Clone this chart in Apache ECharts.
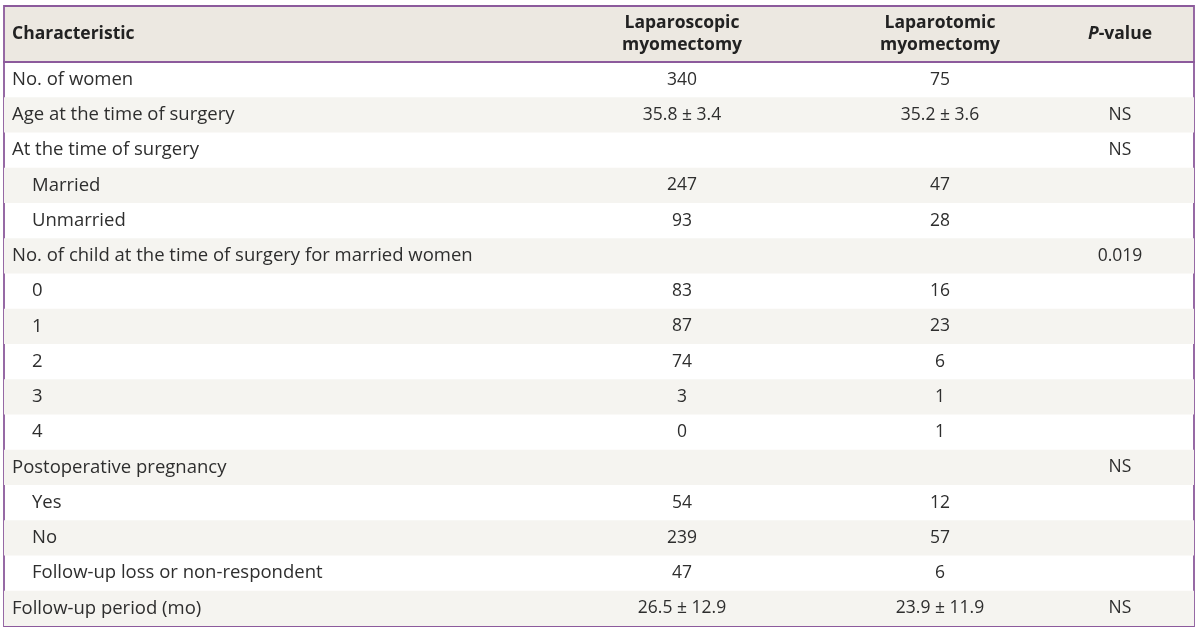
<!DOCTYPE html>
<html>
<head>
<meta charset="utf-8">
<script src="https://cdn.jsdelivr.net/npm/echarts@6/dist/echarts.min.js"></script>
<style>html,body{margin:0;padding:0;background:#fff;}#c{width:1200px;height:630px;}</style>
</head>
<body>
<div id="c"></div>
<script>
// ---- data ----
const headerLabels = ['Characteristic', 'Laparoscopic\nmyomectomy', 'Laparotomic\nmyomectomy', 'P-value'];
const rowLabels = [
  'No. of women',
  'Age at the time of surgery',
  'At the time of surgery',
  'Married',
  'Unmarried',
  'No. of child at the time of surgery for married women',
  '0', '1', '2', '3', '4',
  'Postoperative pregnancy',
  'Yes', 'No', 'Follow-up loss or non-respondent',
  'Follow-up period (mo)'
];
const rowIndent = [0,0,0,1,1,0,1,1,1,1,1,0,1,1,1,0];
const laparoscopic = ['340','35.8 ± 3.4','','247','93','','83','87','74','3','0','','54','239','47','26.5 ± 12.9'];
const laparotomic  = ['75','35.2 ± 3.6','','47','28','','16','23','6','1','1','','12','57','6','23.9 ± 11.9'];
const pValues      = ['','NS','NS','','','0.019','','','','','','NS','','','','NS'];

// ---- layout / style ----
const FONT = '"Open Sans", sans-serif';
const TXT = '#2e2e2e';
const PURPLE = '#8c5a9c';
const HEAD_BG = '#ece8e1';
const STRIPE = '#f5f4f0';
const W = 1190;               // grid inner width (value axis spans pixels)
const colX = [8, 678, 936, 1116];
const indentX = 28;
const LABEL_FONT = '18.5px ' + FONT;
const VALUE_FONT = '17.5px ' + FONT;

const chart = echarts.init(document.getElementById('c'), null, {renderer: 'canvas'});

function bodyRender(params, api) {
  const idx = api.value(0);
  const c = api.coord([0, idx]);
  const h = api.size([0, 1])[1];
  const x0 = c[0];
  const y = c[1];
  const children = [];
  if (idx % 2 === 1) {
    children.push({type: 'rect', shape: {x: x0, y: y - h / 2, width: api.coord([W, idx])[0] - x0, height: h}, style: {fill: STRIPE}, z2: 0});
  }
  const tx = api.coord([rowIndent[idx] ? indentX : colX[0], idx])[0];
  children.push({type: 'text', x: tx, y: y, style: {text: rowLabels[idx], fill: TXT, font: LABEL_FONT, textAlign: 'left', textVerticalAlign: 'middle'}, z2: 2});
  [laparoscopic, laparotomic, pValues].forEach(function (arr, k) {
    if (!arr[idx]) return;
    const cx = api.coord([colX[k + 1], idx])[0];
    children.push({type: 'text', x: cx, y: y, style: {text: arr[idx], fill: TXT, font: VALUE_FONT, textAlign: 'center', textVerticalAlign: 'middle'}, z2: 2});
  });
  return {type: 'group', children: children};
}

function headRender(params, api) {
  const c = api.coord([0, 0]);
  const y = c[1];
  const children = [];
  headerLabels.forEach(function (lab, k) {
    const cx = api.coord([colX[k], 0])[0];
    if (k === 3) {
      children.push({type: 'text', x: cx, y: y, style: {
        text: '{i|P}{b|-value}', textAlign: 'center', textVerticalAlign: 'middle',
        rich: {i: {font: 'italic bold 17.5px ' + FONT, fill: '#222'}, b: {font: 'bold 17.5px ' + FONT, fill: '#222'}}
      }});
    } else {
      children.push({type: 'text', x: cx, y: y, style: {
        text: lab, fill: '#222', font: 'bold 17.5px ' + FONT, lineHeight: 22,
        textAlign: k === 0 ? 'left' : 'center', textVerticalAlign: 'middle'
      }});
    }
  });
  return {type: 'group', children: children};
}

const rowIdx = rowLabels.map(function (_, i) { return [i]; });

chart.setOption({
  animation: false,
  grid: [
    {left: 4, right: 6, top: 6, height: 56, show: true, backgroundColor: HEAD_BG, borderColor: PURPLE, borderWidth: 1.8},
    {left: 4, right: 6, top: 62, bottom: 4, show: true, backgroundColor: '#ffffff', borderColor: PURPLE, borderWidth: 1.8}
  ],
  xAxis: [
    {gridIndex: 0, type: 'value', min: 0, max: W, show: false},
    {gridIndex: 1, type: 'value', min: 0, max: W, show: false}
  ],
  yAxis: [
    {gridIndex: 0, type: 'category', data: ['header'], show: false},
    {gridIndex: 1, type: 'category', data: rowLabels, inverse: true, show: false}
  ],
  series: [
    {type: 'custom', xAxisIndex: 0, yAxisIndex: 0, data: [[0]], renderItem: headRender, encode: {y: 0}, silent: true},
    {type: 'custom', xAxisIndex: 1, yAxisIndex: 1, data: rowIdx, renderItem: bodyRender, encode: {y: 0}, silent: true, clip: false}
  ]
});
</script>
</body>
</html>
